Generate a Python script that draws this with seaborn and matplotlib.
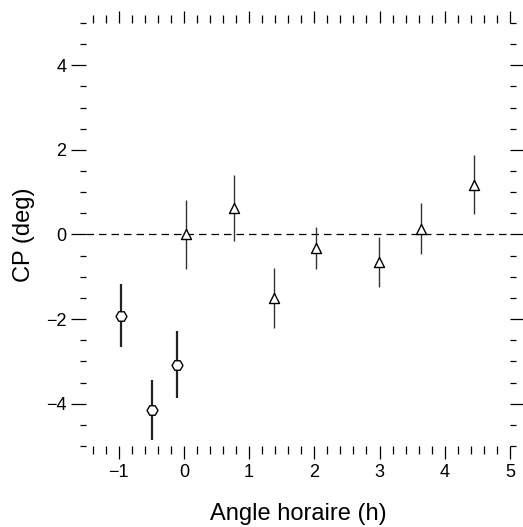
import numpy as np
import pandas as pd
import matplotlib

matplotlib.use("Agg")
import matplotlib.pyplot as plt
from matplotlib.ticker import MultipleLocator
import seaborn as sns

# hexagon points (first group)
hex_x = [-0.97, -0.49, -0.11]
hex_y = [-1.92, -4.15, -3.08]
hex_err = [0.74, 0.71, 0.79]

# triangle points (second group)
tri_x = [0.03, 0.77, 1.39, 2.03, 2.99, 3.64, 4.45]
tri_y = [0.0, 0.63, -1.5, -0.32, -0.64, 0.14, 1.18]
tri_err = [0.82, 0.78, 0.7, 0.49, 0.59, 0.6, 0.69]

sns.set_style("ticks")
plt.rcParams["font.family"] = ["Liberation Sans", "DejaVu Sans"]
plt.rcParams.update({"text.color": "black", "axes.labelcolor": "black",
                     "xtick.color": "black", "ytick.color": "black"})

df = pd.DataFrame({
    "x": hex_x + tri_x,
    "y": hex_y + tri_y,
    "err": hex_err + tri_err,
    "group": ["hex"] * len(hex_x) + ["tri"] * len(tri_x),
})

fig = plt.figure(figsize=(5.23, 5.27), dpi=100)
ax = fig.add_axes([0.1644, 0.1537, 0.8107, 0.8027])

ax.axhline(0, color="black", lw=0.9, ls=(0, (6, 4)), zorder=1)

ax.errorbar(hex_x, hex_y, yerr=hex_err, fmt="none", ecolor="#222222",
            elinewidth=1.6, capsize=0, zorder=2)
ax.errorbar(tri_x, tri_y, yerr=tri_err, fmt="none", ecolor="#333333",
            elinewidth=1.0, capsize=0, zorder=2)

sns.scatterplot(data=df[df.group == "hex"], x="x", y="y", marker="H", s=62,
                facecolor="white", edgecolor="black", linewidth=1.0,
                ax=ax, zorder=3, legend=False)
sns.scatterplot(data=df[df.group == "tri"], x="x", y="y", marker="^", s=52,
                facecolor="white", edgecolor="black", linewidth=1.0,
                ax=ax, zorder=3, legend=False)

ax.set_xlim(-1.5, 5.0)
ax.set_ylim(-5.0, 5.0)
ax.xaxis.set_major_locator(MultipleLocator(1))
ax.xaxis.set_minor_locator(MultipleLocator(0.2))
ax.yaxis.set_major_locator(MultipleLocator(2))
ax.yaxis.set_minor_locator(MultipleLocator(0.5))

for s in ax.spines.values():
    s.set_visible(False)

ax.tick_params(axis="both", which="both", direction="out", color="black",
               labelcolor="black", top=True, right=True, labeltop=False,
               labelright=False, labelsize=13, width=0.9)
ax.tick_params(axis="x", which="major", length=9, pad=4)
ax.tick_params(axis="x", which="minor", length=6)
ax.tick_params(axis="y", which="major", length=11, pad=3)
ax.tick_params(axis="y", which="minor", length=4)

ax.set_xticklabels(["\u22121" if v == -1 else f"{v:g}" for v in ax.get_xticks()])
ax.set_yticklabels([f"{v:g}".replace("-", "\u2212") for v in ax.get_yticks()])

ax.set_xlabel("Angle horaire (h)", fontsize=17, labelpad=16)
ax.set_ylabel("CP (deg)", fontsize=17, labelpad=8)

fig.savefig("out.png", dpi=100, facecolor="white")
